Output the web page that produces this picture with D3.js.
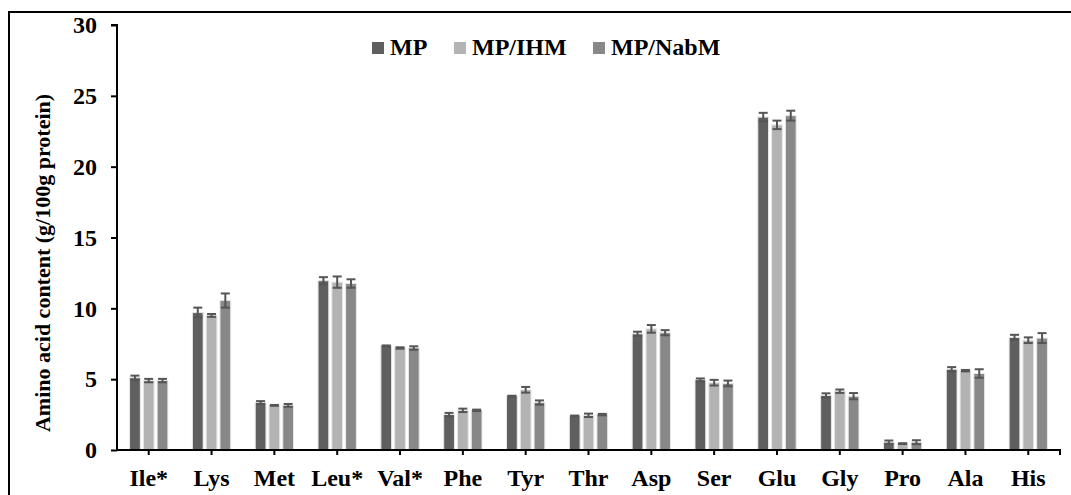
<!DOCTYPE html>
<html lang="en">
<head>
  <meta charset="UTF-8">
  <title>Amino acid content</title>
  <script src="https://d3js.org/d3.v7.min.js"></script>
  <style>
    body { margin: 0; background: #fff; }
    svg text { font-family: "Liberation Serif", "Times New Roman", serif; font-weight: bold; fill: #000; }
    .tick-label { font-size: 24px; }
    .axis-title { font-size: 22px; }
    .legend-text { font-size: 24px; }
  </style>
</head>
<body>
  <div id="chart"></div>
  <script>
    // Data
    const aminoAcids = ["Ile*", "Lys", "Met", "Leu*", "Val*", "Phe", "Tyr", "Thr", "Asp", "Ser", "Glu", "Gly", "Pro", "Ala", "His"];
    const seriesNames = ["MP", "MP/IHM", "MP/NabM"];
    const seriesColors = ["#5f5f5f", "#b3b3b3", "#888888"];

    const mpValues    = [5.1, 9.7, 3.35, 11.95, 7.35, 2.5, 3.8, 2.4, 8.2, 4.95, 23.5, 3.85, 0.55, 5.7, 7.95];
    const ihmValues   = [4.9, 9.5, 3.15, 11.85, 7.2, 2.8, 4.25, 2.45, 8.55, 4.75, 22.95, 4.15, 0.45, 5.6, 7.75];
    const nabmValues  = [4.9, 10.55, 3.15, 11.75, 7.2, 2.8, 3.35, 2.5, 8.28, 4.7, 23.6, 3.8, 0.55, 5.4, 7.9];

    const mpErrors    = [0.15, 0.35, 0.1, 0.25, 0.03, 0.12, 0.03, 0.03, 0.15, 0.1, 0.3, 0.15, 0.12, 0.15, 0.18];
    const ihmErrors   = [0.12, 0.1, 0.03, 0.4, 0.05, 0.12, 0.2, 0.12, 0.27, 0.2, 0.3, 0.12, 0.03, 0.05, 0.2];
    const nabmErrors  = [0.12, 0.5, 0.1, 0.3, 0.12, 0.05, 0.15, 0.05, 0.18, 0.2, 0.35, 0.22, 0.14, 0.3, 0.35];

    const yTicks = [0, 5, 10, 15, 20, 25, 30];

    const allValues = [mpValues, ihmValues, nabmValues];
    const allErrors = [mpErrors, ihmErrors, nabmErrors];

    // one row per bar
    const bars = [];
    aminoAcids.forEach((aa, i) => {
      seriesNames.forEach((s, j) => {
        bars.push({ aa: aa, series: s, idx: j, value: allValues[j][i], err: allErrors[j][i] });
      });
    });

    const W = 1071, H = 495;
    const plot = { left: 117, right: 1060, top: 25, bottom: 450 };

    const svg = d3.select("#chart")
      .append("svg")
      .attr("width", W)
      .attr("height", H);

    // Outer frame (right and bottom edges run off the page)
    svg.append("rect")
      .attr("x", 9)
      .attr("y", 12)
      .attr("width", 1080)
      .attr("height", 500)
      .attr("fill", "none")
      .attr("stroke", "#000")
      .attr("stroke-width", 2);

    // Scales
    const x = d3.scaleBand()
      .domain(aminoAcids)
      .range([plot.left, plot.right])
      .paddingInner(0.39)
      .paddingOuter(0.2);

    const xSub = d3.scaleBand()
      .domain(seriesNames)
      .range([0, x.bandwidth()])
      .paddingInner(0.22);

    const y = d3.scaleLinear()
      .domain([0, 30])
      .range([plot.bottom, plot.top]);

    // Bars
    svg.append("g")
      .selectAll("rect")
      .data(bars)
      .enter()
      .append("rect")
      .attr("x", d => x(d.aa) + xSub(d.series))
      .attr("y", d => y(d.value))
      .attr("width", xSub.bandwidth())
      .attr("height", d => y(0) - y(d.value))
      .attr("fill", d => seriesColors[d.idx])
      .attr("stroke", "#e8e8e8")
      .attr("stroke-width", 1);

    // Error bars
    const errG = svg.append("g")
      .attr("stroke", "#555")
      .attr("stroke-width", 2);

    const cx = d => x(d.aa) + xSub(d.series) + xSub.bandwidth() / 2;
    const capHalf = 4.5;

    errG.selectAll(".err-v")
      .data(bars)
      .enter()
      .append("line")
      .attr("x1", cx)
      .attr("x2", cx)
      .attr("y1", d => y(d.value - d.err))
      .attr("y2", d => y(d.value + d.err));

    errG.selectAll(".err-top")
      .data(bars)
      .enter()
      .append("line")
      .attr("x1", d => cx(d) - capHalf)
      .attr("x2", d => cx(d) + capHalf)
      .attr("y1", d => y(d.value + d.err))
      .attr("y2", d => y(d.value + d.err));

    errG.selectAll(".err-bot")
      .data(bars)
      .enter()
      .append("line")
      .attr("x1", d => cx(d) - capHalf)
      .attr("x2", d => cx(d) + capHalf)
      .attr("y1", d => y(d.value - d.err))
      .attr("y2", d => y(d.value - d.err));

    // Y axis
    const yAxis = d3.axisLeft(y)
      .tickValues(yTicks)
      .tickSize(6)
      .tickPadding(14);

    const yAxisG = svg.append("g")
      .attr("transform", `translate(${plot.left},0)`)
      .call(yAxis);
    yAxisG.select(".domain").attr("stroke", "#000").attr("stroke-width", 2)
      .attr("d", `M-6,${plot.top}H0V${plot.bottom}`);
    yAxisG.selectAll(".tick line").attr("stroke", "#000").attr("stroke-width", 2);
    yAxisG.selectAll(".tick text").attr("class", "tick-label").attr("font-family", null).attr("font-size", null);
    yAxisG.attr("font-family", null).attr("font-size", null);

    // X axis
    const xAxis = d3.axisBottom(x)
      .tickSize(5)
      .tickPadding(14);

    const xAxisG = svg.append("g")
      .attr("transform", `translate(0,${plot.bottom})`)
      .call(xAxis);
    xAxisG.select(".domain").attr("stroke", "#000").attr("stroke-width", 2)
      .attr("d", `M${plot.left},0H${plot.right}V5`);
    xAxisG.selectAll(".tick line").attr("stroke", "#000").attr("stroke-width", 2);
    xAxisG.selectAll(".tick text").attr("class", "tick-label");
    xAxisG.attr("font-family", null).attr("font-size", null);

    // Y axis title
    svg.append("text")
      .attr("class", "axis-title")
      .attr("transform", "rotate(-90)")
      .attr("x", -263)
      .attr("y", 50)
      .style("text-anchor", "middle")
      .text("Amino acid content (g/100g protein)");

    // Legend
    const legendX = [372, 454, 593];
    const legend = svg.append("g");
    seriesNames.forEach((s, j) => {
      legend.append("rect")
        .attr("x", legendX[j])
        .attr("y", 42)
        .attr("width", 12)
        .attr("height", 12)
        .attr("fill", seriesColors[j]);
      legend.append("text")
        .attr("class", "legend-text")
        .attr("x", legendX[j] + 18)
        .attr("y", 55)
        .text(s);
    });
  </script>
</body>
</html>
